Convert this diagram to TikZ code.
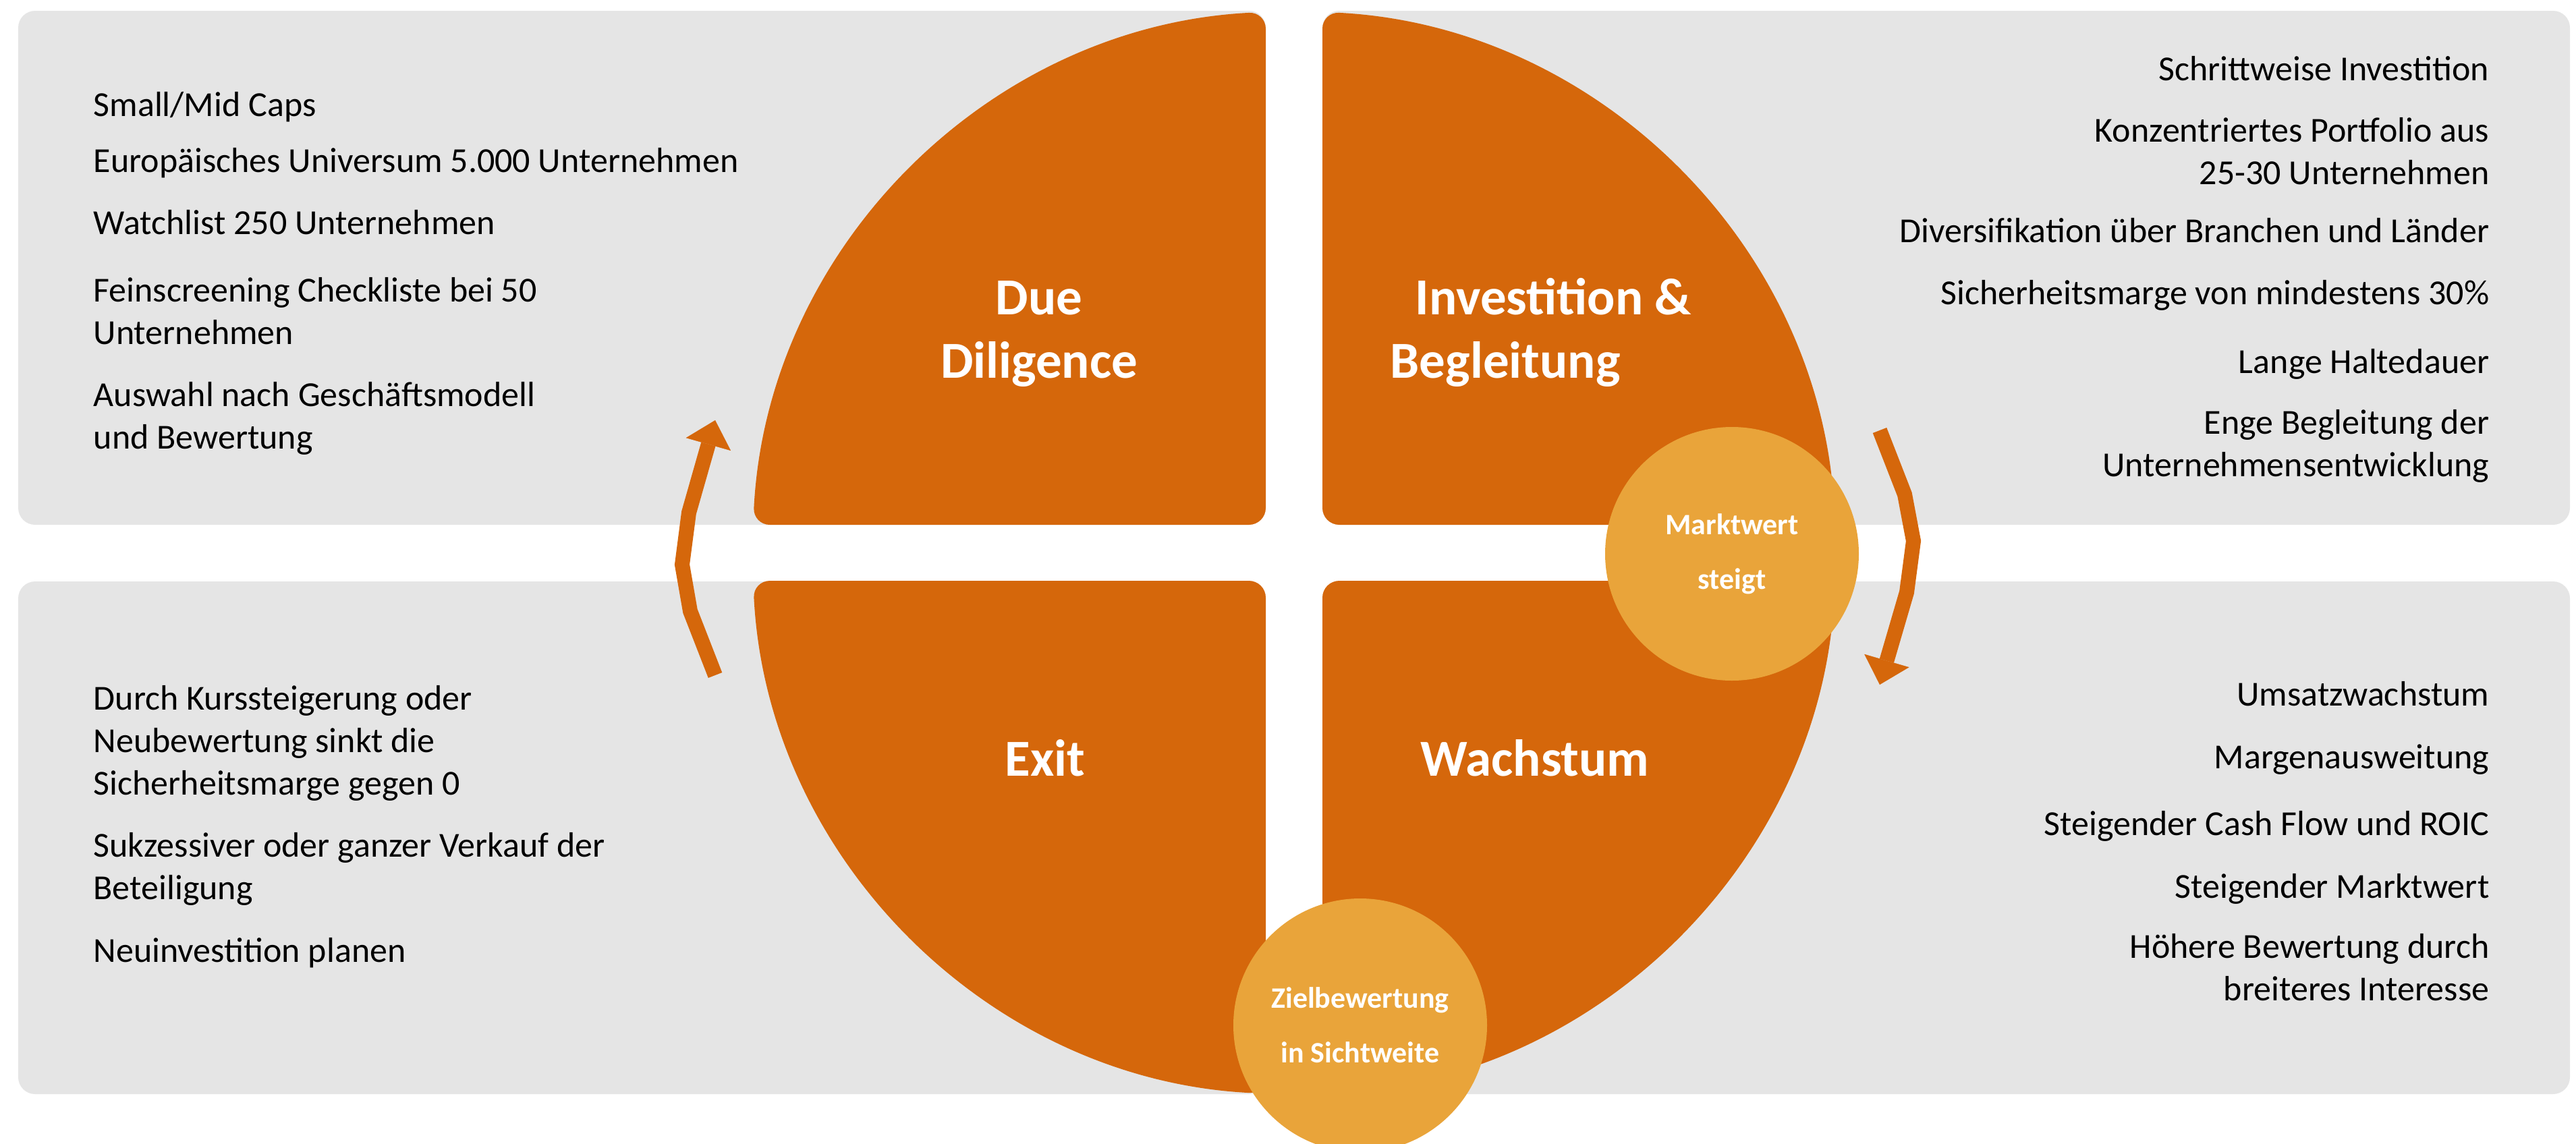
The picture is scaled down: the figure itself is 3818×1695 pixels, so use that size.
\documentclass[tikz,border=0pt]{standalone}
\usepackage{fontspec}
\setmainfont{Carlito}
\usetikzlibrary{arrows.meta}

\definecolor{pieorange}{RGB}{213,103,11}
\definecolor{dotorange}{RGB}{233,164,58}
\definecolor{panelgray}{RGB}{229,229,229}

\tikzset{
  panel/.style={fill=panelgray, rounded corners=2.5mm},
  quarter/.style={fill=pieorange, rounded corners=2.5mm},
  phasetitle/.style={font=\fontsize{21.9}{26.7}\selectfont\bfseries, text=white, align=center, anchor=base, inner sep=0pt},
  listitem/.style={font=\fontsize{14.8}{17.8}\selectfont, align=left, anchor=base west, inner sep=0pt},
  listitemr/.style={listitem, align=right, anchor=base east},
  badge/.style={circle, fill=dotorange, minimum size=37.6mm, inner sep=0pt, text=white, font=\fontsize{12.5}{23}\selectfont\bfseries, align=center},
  cyclearrow/.style={draw=pieorange, line width=2.2mm, -{Triangle[width=6.9mm,length=3.7mm,line width=0.1pt]}}
}

\begin{document}
\begin{tikzpicture}[x=0.1mm, y=-0.1mm]
    \def\cx{1918}   % centre of the pie
    \def\cy{819.5}
    \def\R{803}     % radius of the pie
    \def\gx{42}     % half gap, vertical strip
    \def\gy{41.5}   % half gap, horizontal strip
    \pgfmathsetmacro\da{asin(\gx/\R)}
    \pgfmathsetmacro\db{asin(\gy/\R)}

    \clip (0,0) rectangle (3818,1695);

    % Grey panels
    \fill[panel] (27,16) rectangle (1876,778);
    \fill[panel] (1960,16) rectangle (3809,778);
    \fill[panel] (27,862) rectangle (1876,1622);
    \fill[panel] (1960,862) rectangle (3809,1622);

    % Pie quarters
    \fill[quarter] (\cx-\gx,\cy-\gy) -- ({\cx-\gx},{\cy-\R*cos(\da)})
        arc[start angle=270-\da, end angle=180+\db, radius=\R] -- cycle;
    \fill[quarter] (\cx+\gx,\cy-\gy) -- ({\cx+\R*cos(\db)},{\cy-\gy})
        arc[start angle=360-\db, end angle=270+\da, radius=\R] -- cycle;
    \fill[quarter] (\cx+\gx,\cy+\gy) -- ({\cx+\gx},{\cy+\R*cos(\da)})
        arc[start angle=90-\da, end angle=\db, radius=\R] -- cycle;
    \fill[quarter] (\cx-\gx,\cy+\gy) -- ({\cx-\R*cos(\db)},{\cy+\gy})
        arc[start angle=180-\db, end angle=90+\da, radius=\R] -- cycle;

    % Cycle arrows
    \coordinate (exitTail) at (1060,1001);
    \coordinate (ddHead) at (1060,623);
    \coordinate (invTail) at (2786,638);
    \coordinate (wachHead) at (2786,1015);
    \draw[cyclearrow] (exitTail) -- (1023,906) -- (1011,837) -- (1021,760) -- (ddHead);
    \draw[cyclearrow] (invTail) -- (2823,733) -- (2836,802) -- (2826,878) -- (wachHead);

    % Small circles
    \node[badge] (markt) at (2567,821) {Marktwert\\steigt};
    \node[badge] (ziel) at (2016,1520) {Zielbewertung\\in Sichtweite};

    % Phase titles (base = last line)
    \node[phasetitle] (dd) at (1540,560) {Due\\Diligence};
    \node[phasetitle, align=left, anchor=base west] (inv) at (2060,560) {\hspace*{3.7mm}Investition \&\\Begleitung};
    \node[phasetitle] (exit) at (1549,1150) {Exit};
    \node[phasetitle] (wach) at (2275,1150) {Wachstum};

    % Due Diligence
    \node[listitem] (dd1) at (138,172) {Small/Mid Caps};
    \node[listitem] (dd2) at (138,255) {Europäisches Universum 5.000 Unternehmen};
    \node[listitem] (dd3) at (138,347) {Watchlist 250 Unternehmen};
    \node[listitem] (dd4) at (138,510) {Feinscreening Checkliste bei 50\\Unternehmen};
    \node[listitem] (dd5) at (138,665) {Auswahl nach Geschäftsmodell\\und Bewertung};

    % Investition & Begleitung
    \node[listitemr] (inv1) at (3690,119) {Schrittweise Investition};
    \node[listitemr] (inv2) at (3690,273) {Konzentriertes Portfolio aus\\25-30 Unternehmen};
    \node[listitemr] (inv3) at (3690,359) {Diversifikation über Branchen und Länder};
    \node[listitemr] (inv4) at (3690,451) {Sicherheitsmarge von mindestens 30\%};
    \node[listitemr] (inv5) at (3690,553) {Lange Haltedauer};
    \node[listitemr] (inv6) at (3690,706) {Enge Begleitung der\\Unternehmensentwicklung};

    % Exit
    \node[listitem] (ex1) at (138,1178) {Durch Kurssteigerung oder\\Neubewertung sinkt die\\Sicherheitsmarge gegen 0};
    \node[listitem] (ex2) at (138,1333) {Sukzessiver oder ganzer Verkauf der\\Beteiligung};
    \node[listitem] (ex3) at (138,1426) {Neuinvestition planen};

    % Wachstum
    \node[listitemr] (wa1) at (3690,1046) {Umsatzwachstum};
    \node[listitemr] (wa2) at (3690,1139) {Margenausweitung};
    \node[listitemr] (wa3) at (3690,1238) {Steigender Cash Flow und ROIC};
    \node[listitemr] (wa4) at (3690,1331) {Steigender Marktwert};
    \node[listitemr] (wa5) at (3690,1483) {Höhere Bewertung durch\\breiteres Interesse};
\end{tikzpicture}
\end{document}
